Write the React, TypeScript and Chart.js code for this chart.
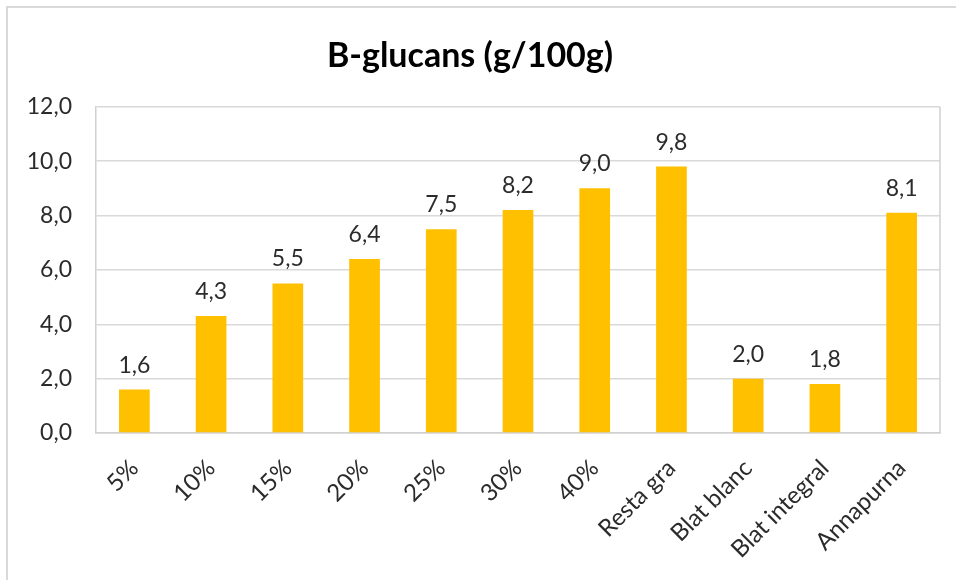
import React, { useEffect, useRef } from "react";
import { Chart, registerables } from "chart.js";

Chart.register(...registerables);

const categories = ["5%", "10%", "15%", "20%", "25%", "30%", "40%", "Resta gra", "Blat blanc", "Blat integral", "Annapurna"];
const values = [1.6, 4.3, 5.5, 6.4, 7.5, 8.2, 9.0, 9.8, 2.0, 1.8, 8.1];
const yTicks = [0, 2, 4, 6, 8, 10, 12];
const titleText = "B-glucans (g/100g)";

const FONT = "Lato, 'Open Sans', sans-serif";
const fmt = (v: number) => v.toFixed(1).replace(".", ",");

const dataLabels = {
  id: "dataLabels",
  afterDatasetsDraw(chart: any) {
    const ctx = chart.ctx;
    const meta = chart.getDatasetMeta(0);
    ctx.save();
    ctx.font = `23px ${FONT}`;
    ctx.fillStyle = "#2b2b2b";
    ctx.textAlign = "center";
    ctx.textBaseline = "alphabetic";
    meta.data.forEach((el: any, i: number) => {
      ctx.fillText(fmt(values[i]), el.x, el.y - 17);
    });
    ctx.restore();
  },
};

const plotBorder = {
  id: "plotBorder",
  beforeDatasetsDraw(chart: any) {
    const { ctx, chartArea } = chart;
    ctx.save();
    ctx.strokeStyle = "#d0d0d0";
    ctx.lineWidth = 1.5;
    ctx.beginPath();
    ctx.moveTo(chartArea.right, chartArea.top);
    ctx.lineTo(chartArea.right, chartArea.bottom);
    ctx.stroke();
    ctx.restore();
  },
};

export default function App() {
  const ref = useRef<HTMLCanvasElement | null>(null);
  useEffect(() => {
    if (!ref.current) return;
    const chart = new Chart(ref.current, {
      type: "bar",
      data: {
        labels: categories,
        datasets: [
          {
            data: values,
            backgroundColor: "#FFC000",
            borderWidth: 0,
            barPercentage: 0.8,
            categoryPercentage: 0.5,
          },
        ],
      },
      options: {
        animation: false,
        responsive: false,
        maintainAspectRatio: false,
        layout: { padding: { left: 0, right: 16, top: 0, bottom: 0 } },
        plugins: {
          legend: { display: false },
          tooltip: { enabled: false },
          title: {
            display: true,
            text: titleText,
            color: "#000000",
            font: { family: FONT, size: 34, weight: "bold" },
            padding: { top: 36, bottom: 30 },
          },
        },
        scales: {
          x: {
            grid: { display: false, drawTicks: false },
            border: { display: true, color: "#d0d0d0", width: 1.5 },
            ticks: {
              color: "#2b2b2b",
              font: { family: FONT, size: 24 },
              minRotation: 45,
              maxRotation: 45,
              padding: 21,
              autoSkip: false,
            },
            afterFit(scale: any) {
              scale.height = 147;
            },
          },
          y: {
            min: 0,
            max: 12,
            afterBuildTicks(scale: any) {
              scale.ticks = yTicks.map((v) => ({ value: v }));
            },
            grid: { color: "#d9d9d9", lineWidth: 1.5, drawTicks: false },
            border: { display: true, color: "#d0d0d0", width: 1.5 },
            ticks: {
              color: "#2b2b2b",
              font: { family: FONT, size: 23 },
              padding: 24,
              callback: (v: any) => fmt(Number(v)),
            },
            afterFit(scale: any) {
              scale.width = 96;
            },
          },
        },
      },
      plugins: [dataLabels, plotBorder],
    });
    return () => chart.destroy();
  }, []);

  return (
    <div style={{ position: "absolute", left: 0, top: 0, width: 956, height: 580, overflow: "hidden", background: "#fff" }}>
      <div
        style={{
          position: "absolute",
          left: 6,
          top: 6,
          width: 1000,
          height: 700,
          borderTop: "2px solid #d9d9d9",
          borderLeft: "2px solid #d9d9d9",
        }}
      />
      <canvas ref={ref} width={956} height={580} style={{ position: "absolute", left: 0, top: 0 }} />
    </div>
  );
}
